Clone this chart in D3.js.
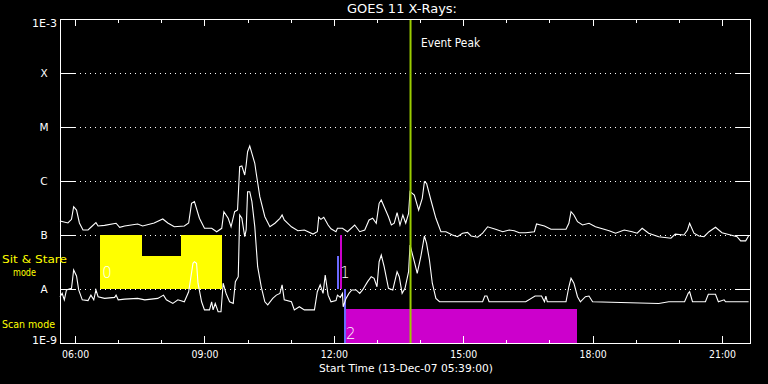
<!DOCTYPE html>
<html>
<head>
<meta charset="utf-8">
<script src="https://cdn.jsdelivr.net/npm/d3@7"></script>
<style>
body { margin: 0; background: #000; }
svg text { font-family: "DejaVu Sans", sans-serif; fill: #fff; }
</style>
</head>
<body>
<div id="chart"></div>
<script>
// GOES 11 light curves, 13-Dec-2007
var day = "2007-12-13";
var startTime = "05:39", endTime = "21:39";

// 1-8 A channel, flux in units of 1e-7 W/m^2
var longTime = ["05:39","05:50","05:55","05:58","06:02","06:06","06:11","06:18","06:22","06:29",
  "06:32","06:41","06:57","07:02","07:09","07:27","07:34","07:50","08:02","08:09",
  "08:18","08:32","08:38","08:42","08:46","08:53","09:00","09:10","09:17","09:24",
  "09:27","09:33","09:37","09:42","09:46","09:49","09:52","09:56","09:58","10:00",
  "10:03","10:06","10:10","10:12","10:17","10:24","10:31","10:38","10:45","10:48",
  "10:51","11:01","11:10","11:19","11:31","11:37","11:39","11:42","11:46","11:52",
  "11:56","12:03","12:05","12:12","12:19","12:29","12:36","12:43","12:49","12:54",
  "12:59","13:03","13:06","13:10","13:16","13:20","13:24","13:28","13:32","13:36",
  "13:40","13:44","13:46","13:52","13:58","14:03","14:06","14:09","14:15","14:22",
  "14:29","14:36","14:45","14:52","14:59","15:06","15:11","15:20","15:27","15:34",
  "15:45","15:55","16:04","16:11","16:18","16:27","16:39","16:42","16:53","17:02",
  "17:13","17:23","17:27","17:30","17:34","17:39","17:46","17:55","18:04","18:16",
  "18:23","18:32","18:44","18:55","19:02","19:09","19:18","19:32","19:49","19:55",
  "20:07","20:12","20:15","20:21","20:28","20:35","20:42","20:51","21:00","21:12",
  "21:21","21:26","21:33","21:37"];
var longFlux = [1.82,1.67,1.95,3.34,2.90,1.67,1.24,1.24,1.39,1.69,
  1.47,1.51,1.65,1.39,1.47,1.60,1.47,1.67,1.98,1.67,
  1.42,1.47,1.67,3.86,4.14,2.04,1.33,1.33,1.15,1.33,
  2.70,2.04,1.42,2.70,2.90,18.4,19.0,12.9,19.8,34.9,
  44.5,32.6,21.3,13.9,5.12,2.18,1.42,1.65,2.04,2.35,
  1.90,1.42,1.20,1.24,1.04,1.15,2.13,1.95,2.13,1.53,
  1.30,1.15,1.33,1.33,1.15,1.53,1.15,1.24,1.90,2.04,
  1.65,3.86,4.45,3.34,2.18,1.53,1.65,2.59,1.53,2.35,
  1.65,2.52,6.34,5.50,2.90,4.78,9.71,9.07,4.45,2.04,
  1.15,1.15,1.00,0.93,1.08,1.12,0.96,0.91,1.08,1.42,
  1.28,1.15,1.24,1.20,1.10,1.10,1.15,1.60,1.47,1.28,
  1.28,1.28,1.65,2.70,2.35,1.76,1.53,1.65,1.42,1.28,
  1.20,1.08,1.24,1.15,1.08,1.33,1.08,0.93,0.87,1.04,
  1.00,1.24,1.65,1.08,0.96,0.93,1.15,1.39,1.10,1.00,
  0.93,0.78,0.78,0.96];

// 0.5-4 A channel, flux in units of 1e-8 W/m^2
var shortTime = ["05:39","05:42","05:45","05:48","05:55","05:58","06:02","06:05","06:10","06:18",
  "06:22","06:26","06:29","06:32","06:41","06:55","06:57","07:00","07:09","07:27",
  "07:37","07:55","08:03","08:07","08:16","08:23","08:32","08:38","08:44","08:46",
  "08:49","08:51","08:56","09:00","09:07","09:10","09:12","09:15","09:19","09:23",
  "09:26","09:30","09:35","09:40","09:43","09:47","09:49","09:52","09:56","09:58",
  "10:00","10:03","10:06","10:10","10:14","10:19","10:24","10:28","10:35","10:40",
  "10:45","10:48","10:51","11:01","11:05","11:12","11:19","11:33","11:37","11:41",
  "11:45","11:48","11:52","11:56","12:03","12:05","12:09","12:12","12:13","12:17",
  "12:21","12:25","12:31","12:36","12:40","12:47","12:52","12:56","13:00","13:03",
  "13:06","13:10","13:16","13:22","13:28","13:31","13:35","13:39","13:44","13:46",
  "13:52","13:56","14:01","14:06","14:09","14:13","14:17","14:22","14:27","15:27",
  "15:30","15:33","15:36","16:27","16:40","16:49","16:53","16:55","16:57","17:23",
  "17:27","17:30","17:34","17:39","17:43","17:50","17:55","18:00","19:32","19:46",
  "20:08","20:13","20:15","20:19","20:37","20:41","20:51","20:55","21:03","21:05",
  "21:37"];
var shortFlux = [0.72,0.83,0.63,0.96,1.03,2.25,1.74,0.96,0.63,0.61,
  0.77,0.63,0.96,0.72,0.67,0.70,0.77,0.63,0.65,0.67,
  0.63,0.67,0.77,0.63,0.54,0.63,0.58,0.89,2.99,3.20,
  2.99,1.28,0.58,0.41,0.41,0.58,0.41,0.54,0.38,0.38,
  1.28,0.83,0.58,0.54,1.37,1.69,23.5,20.4,9.30,12.4,
  63.4,63.4,41.4,14.3,2.59,1.10,0.58,0.51,0.67,0.77,
  0.83,1.19,0.63,0.58,0.41,0.47,0.41,0.41,0.89,1.19,
  0.83,1.82,0.77,0.58,0.61,0.77,0.70,0.83,0.47,0.67,
  0.83,0.96,0.96,0.83,0.96,1.37,1.69,1.58,1.10,3.20,
  4.26,2.59,1.03,0.96,2.09,1.69,0.83,1.03,2.09,6.53,
  3.20,1.95,3.96,9.58,7.02,3.44,1.28,0.67,0.58,0.58,
  0.74,0.74,0.58,0.58,0.74,0.74,0.58,0.74,0.58,0.58,
  1.10,1.58,1.28,0.72,0.58,0.72,0.74,0.58,0.54,0.58,
  0.58,0.83,0.89,0.58,0.58,0.80,0.80,0.58,0.63,0.58,
  0.58];

var decades = [1e-9, 1e-8, 1e-7, 1e-6, 1e-5, 1e-4, 1e-3];
var decadeNames = ["1E-9", "A", "B", "C", "M", "X", "1E-3"];
var eventPeak = "13:46";

// observation blocks: sit & stare band (B..A), scan band (A..1E-9)
var ssFrom = ["06:35", "07:33", "08:27", "12:09"];
var ssTo   = ["07:33", "08:27", "09:25", "12:11"];
var ssTop  = [1e-7, 4.1e-8, 1e-7, 1e-7];
var ssObs  = [0, 0, 0, 1];
var scanFrom = ["12:17"];
var scanTo   = ["17:38"];
var scanTop  = [4.2e-9];
var scanObs  = [2];
// observation start markers
var markTime   = ["12:06", "12:15"];
var markTop    = [4.1e-8, 1e-8];
var markBottom = [1e-8, 1e-9];
var obsIds   = ["0", "1", "2"];
var obsStart = ["06:35", "12:09", "12:17"];

var obsColor = ["#ffff00", "#cc00cc", "#cc00cc"];

var w = 768, h = 384;
var margins = {top: 19, bottom: 41, left: 60, right: 18};
var parse = d3.timeParse("%Y-%m-%d %H:%M");
var T = function(s) { return parse(day + " " + s); };

var x = d3.scaleTime()
  .domain([T(startTime), T(endTime)])
  .range([margins.left, w - margins.right]);
var y = d3.scaleLog()
  .domain([1e-9, 1e-3])
  .range([h - margins.bottom, margins.top]);

var svg = d3.select("#chart").append("svg")
  .attr("width", w)
  .attr("height", h)
  .style("background", "#000");

var fit = function(sel, len) {
  sel.attr("textLength", len).attr("lengthAdjust", "spacingAndGlyphs");
};

// dotted decade grid
svg.append("g").selectAll("line")
  .data(decades.slice(1, 6))
  .enter().append("line")
  .attr("x1", margins.left).attr("x2", w - margins.right)
  .attr("y1", function(d) { return Math.round(y(d)) + 0.5; })
  .attr("y2", function(d) { return Math.round(y(d)) + 0.5; })
  .attr("stroke", "#fff")
  .attr("stroke-dasharray", "1,4");

// sit & stare + scan blocks
var ss = ssFrom.map(function(d, i) {
  return {from: T(d), to: T(ssTo[i]), top: ssTop[i], bottom: 1e-8, obs: ssObs[i]};
});
var scan = scanFrom.map(function(d, i) {
  return {from: T(d), to: T(scanTo[i]), top: scanTop[i], bottom: 1e-9, obs: scanObs[i]};
});
svg.append("g").selectAll("rect")
  .data(ss.concat(scan))
  .enter().append("rect")
  .attr("x", function(d) { return Math.round(x(d.from)); })
  .attr("width", function(d) { return Math.max(2, Math.round(x(d.to)) - Math.round(x(d.from))); })
  .attr("y", function(d) { return Math.round(y(d.top)); })
  .attr("height", function(d) { return Math.round(y(d.bottom)) - Math.round(y(d.top)); })
  .attr("fill", function(d) { return obsColor[d.obs]; })
  .attr("shape-rendering", "crispEdges");

svg.append("g").selectAll("rect")
  .data(markTime)
  .enter().append("rect")
  .attr("x", function(d) { return Math.round(x(T(d))) - 1; })
  .attr("width", 2)
  .attr("y", function(d, i) { return Math.round(y(markTop[i])); })
  .attr("height", function(d, i) { return Math.round(y(markBottom[i])) - Math.round(y(markTop[i])); })
  .attr("fill", "#6a6aff")
  .attr("shape-rendering", "crispEdges");

// observation numbers
svg.append("g").selectAll("text")
  .data(obsIds)
  .enter().append("text")
  .text(function(d) { return d; })
  .attr("x", function(d, i) { return x(T(obsStart[i])) + (i == 0 ? 2 : 0); })
  .attr("y", function(d, i) { return i < 2 ? 278 : 339; })
  .style("font-size", "15px")
  .style("font-weight", "300");

// light curves
var line = d3.line()
  .x(function(d) { return x(d.t); })
  .y(function(d) { return y(d.f); });
var longData = longTime.map(function(d, i) { return {t: T(d), f: longFlux[i] * 1e-7}; });
var shortData = shortTime.map(function(d, i) { return {t: T(d), f: shortFlux[i] * 1e-8}; });
[longData, shortData].forEach(function(data) {
  svg.append("path")
    .datum(data)
    .attr("d", line)
    .attr("fill", "none")
    .attr("stroke", "#fff")
    .attr("stroke-width", 1.1);
});

// event peak
svg.append("line")
  .attr("x1", x(T(eventPeak)) + 0.5).attr("x2", x(T(eventPeak)) + 0.5)
  .attr("y1", margins.top).attr("y2", h - margins.bottom)
  .attr("stroke", "#9acd00")
  .attr("stroke-width", 2);
svg.append("text")
  .text("Event Peak")
  .attr("x", x(T(eventPeak)) + 11)
  .attr("y", 47)
  .style("font-size", "12px")
  .call(fit, 59);

// axes
var bottomY = h - margins.bottom;
var xMajor = d3.axisBottom(x)
  .ticks(d3.timeHour.every(3))
  .tickFormat(d3.timeFormat("%H:%M"))
  .tickSize(-7)
  .tickPadding(8);
var xMinor = d3.axisBottom(x).ticks(d3.timeHour.every(1)).tickFormat("").tickSize(-3.5);
svg.append("g").attr("transform", "translate(0," + bottomY + ")").call(xMinor);
var gx2 = svg.append("g").attr("transform", "translate(0," + bottomY + ")").call(xMajor);
gx2.selectAll("text").style("font-size", "10px").call(fit, 27);
svg.append("g").attr("transform", "translate(0," + margins.top + ")")
  .call(d3.axisTop(x).ticks(d3.timeHour.every(1)).tickFormat("").tickSize(-3.5));
svg.append("g").attr("transform", "translate(0," + margins.top + ")")
  .call(d3.axisTop(x).ticks(d3.timeHour.every(3)).tickFormat("").tickSize(-7));

var gy = svg.append("g").attr("transform", "translate(" + margins.left + ",0)")
  .call(d3.axisLeft(y).tickValues(decades)
    .tickFormat(function(d, i) { return decadeNames[i]; })
    .tickSize(-15).tickPadding(3));
gy.selectAll("text")
  .style("font-size", "10.5px")
  .attr("text-anchor", function(d, i) { return decadeNames[i].length > 1 ? "end" : "middle"; })
  .attr("x", function(d, i) { return decadeNames[i].length > 1 ? -3 : -16; })
  .attr("dy", function(d, i) { return i == 0 ? "0.02em" : (i == 6 ? "0.72em" : "0.36em"); });
gy.selectAll("text").filter(function(d, i) { return decadeNames[i].length > 1; }).call(fit, 25);

svg.append("g").attr("transform", "translate(" + (w - margins.right) + ",0)")
  .call(d3.axisRight(y).tickValues(decades).tickFormat("").tickSize(-15));

svg.selectAll(".domain").remove();
svg.selectAll(".tick line").attr("stroke", "#fff").attr("shape-rendering", "crispEdges");
svg.selectAll(".tick text").attr("fill", "#fff").style("font-family", "DejaVu Sans, sans-serif");

// frame
svg.append("rect")
  .attr("x", margins.left + 0.5).attr("y", margins.top + 0.5)
  .attr("width", w - margins.left - margins.right)
  .attr("height", h - margins.top - margins.bottom)
  .attr("fill", "none").attr("stroke", "#fff");

// titles
svg.append("text")
  .text("GOES 11 X-Rays:")
  .attr("x", 347).attr("y", 13)
  .style("font-size", "12.5px")
  .call(fit, 110);
svg.append("text")
  .text("Start Time (13-Dec-07 05:39:00)")
  .attr("x", 319).attr("y", 372)
  .style("font-size", "10.5px")
  .call(fit, 174);

// band labels
var bandLabels = svg.append("g").style("font-size", "10px");
bandLabels.append("text").text("Sit & Stare").attr("x", 2).attr("y", 263).style("fill", "#ffff00").call(fit, 65);
bandLabels.append("text").text("mode").attr("x", 13).attr("y", 275.5).style("fill", "#ffff00").call(fit, 23);
bandLabels.append("text").text("Scan mode").attr("x", 2).attr("y", 328).style("fill", "#ffff00").call(fit, 53);
</script>
</body>
</html>
